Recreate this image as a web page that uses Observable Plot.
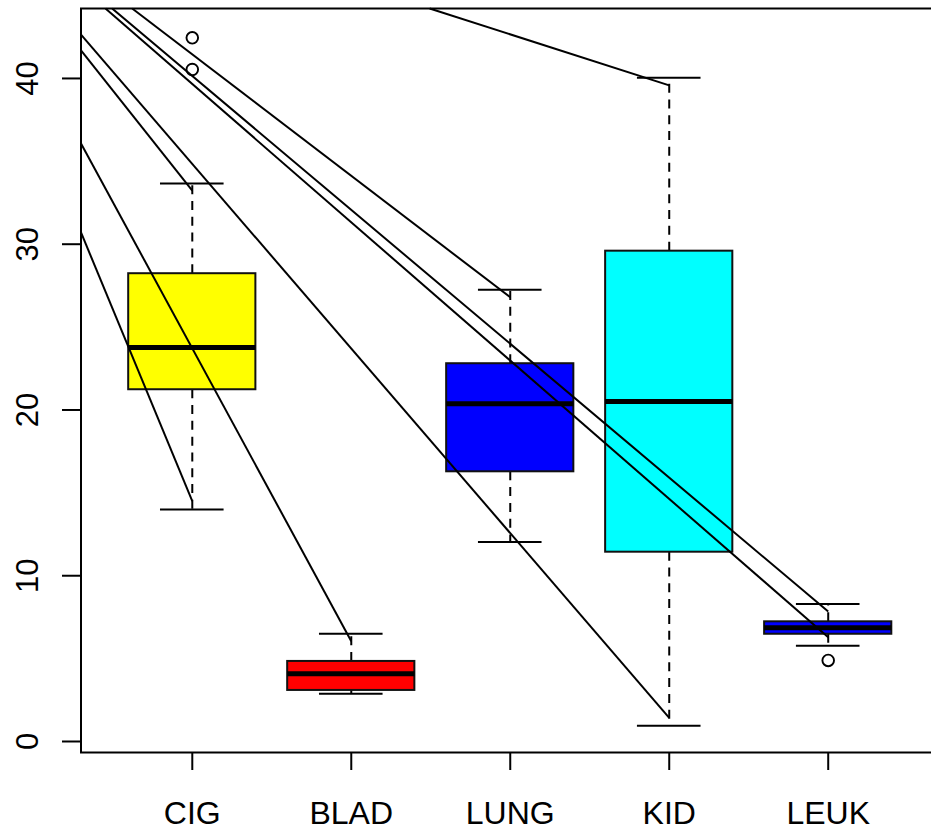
<!DOCTYPE html>
<html>
<head>
<meta charset="utf-8">
<script src="https://cdn.jsdelivr.net/npm/d3@7"></script>
<script src="https://cdn.jsdelivr.net/npm/@observablehq/plot@0.6"></script>
<style>
  html, body { margin: 0; padding: 0; background: white; }
</style>
</head>
<body>
<div id="chart"></div>
<script>
// Box statistics per category
const categories   = ["CIG", "BLAD", "LUNG", "KID", "LEUK"];
const lowerWhisker = [14.00, 2.88, 12.03, 0.95, 5.77];
const lowerHinge   = [21.22, 3.08, 16.27, 11.42, 6.47];
const medians      = [23.77, 4.08, 20.37, 20.51, 6.86];
const upperHinge   = [28.22, 4.83, 22.79, 29.58, 7.22];
const upperWhisker = [33.66, 6.50, 27.25, 40.04, 8.30];
const boxColors    = ["yellow", "red", "blue", "cyan", "blue"];

// Outliers
const outlierCategory = ["CIG", "CIG", "LEUK"];
const outlierValue    = [42.45, 40.54, 4.89];

// Overlaid straight lines (start position on the x scale, start value, end category, end value)
const lineStartPos   = [0.30, 0.30, 0.30, 0.30, 0.454, 0.496, 0.622, 2.493];
const lineStartValue = [30.71, 36.08, 41.69, 42.64, 44.22, 44.22, 44.22, 44.22];
const lineEndCat     = ["CIG", "BLAD", "CIG", "KID", "LEUK", "LEUK", "LUNG", "KID"];
const lineEndValue   = [14.50, 6.05, 33.24, 1.43, 6.29, 7.84, 26.80, 39.58];

const yTicks = [0, 10, 20, 30, 40];
const yDomain = [-0.664, 44.22];
const xDomain = [0.3, 5.7];

const pos = c => categories.indexOf(c) + 1;

const boxes = categories.map((c, i) => ({
  cat: c, pos: i + 1,
  lo: lowerWhisker[i], q1: lowerHinge[i], med: medians[i],
  q3: upperHinge[i], hi: upperWhisker[i], color: boxColors[i]
}));
const outliers = outlierCategory.map((c, i) => ({pos: pos(c), value: outlierValue[i]}));
const segs = lineStartPos.map((p, i) => ({
  x1: p, y1: lineStartValue[i], x2: pos(lineEndCat[i]), y2: lineEndValue[i]
}));

const dash = "9,6.8";
const chart = Plot.plot({
  width: 931,
  height: 834,
  marginLeft: 80,
  marginRight: 0,
  marginTop: 8,
  marginBottom: 82,
  x: {type: "linear", domain: xDomain, range: [80.5, 939], label: null},
  y: {domain: yDomain, label: null},
  color: {type: "identity"},
  style: {fontFamily: "'Liberation Sans', Arial, sans-serif", background: "white", color: "black"},
  marks: [
    // whiskers
    Plot.ruleX(boxes, {x: "pos", y1: "q3", y2: "hi", stroke: "black", strokeWidth: 2, strokeDasharray: dash}),
    Plot.ruleX(boxes, {x: "pos", y1: "q1", y2: "lo", stroke: "black", strokeWidth: 2, strokeDasharray: dash}),
    // staples
    Plot.ruleY(boxes, {y: "hi", x1: d => d.pos - 0.2, x2: d => d.pos + 0.2, stroke: "black", strokeWidth: 2}),
    Plot.ruleY(boxes, {y: "lo", x1: d => d.pos - 0.2, x2: d => d.pos + 0.2, stroke: "black", strokeWidth: 2}),
    // boxes
    Plot.rect(boxes, {x1: d => d.pos - 0.4, x2: d => d.pos + 0.4, y1: "q1", y2: "q3", fill: "color", stroke: "#111", strokeWidth: 2}),
    // medians
    Plot.ruleY(boxes, {y: "med", x1: d => d.pos - 0.4, x2: d => d.pos + 0.4, stroke: "black", strokeWidth: 5}),
    // outliers
    Plot.dot(outliers, {x: "pos", y: "value", r: 5.8, stroke: "black", strokeWidth: 1.9, fill: "none"}),
    // overlaid lines
    Plot.link(segs, {x1: "x1", y1: "y1", x2: "x2", y2: "y2", stroke: "black", strokeWidth: 2}),
    // frame (left, top, bottom)
    Plot.ruleY(yDomain, {stroke: "black", strokeWidth: 2}),
    Plot.ruleX([xDomain[0]], {stroke: "black", strokeWidth: 2}),
    // axes
    Plot.axisX([1, 2, 3, 4, 5], {
      anchor: "bottom", tickFormat: d => categories[d - 1], tickSize: 18, tickPadding: 31,
      fontSize: 32, strokeWidth: 2, label: null, fill: "black"
    }),
    Plot.axisY(yTicks, {
      anchor: "left", tickSize: 18, tickRotate: -90, tickPadding: 25,
      fontSize: 31, strokeWidth: 2, label: null, fill: "black"
    })
  ]
});
document.getElementById("chart").appendChild(chart);
</script>
</body>
</html>
